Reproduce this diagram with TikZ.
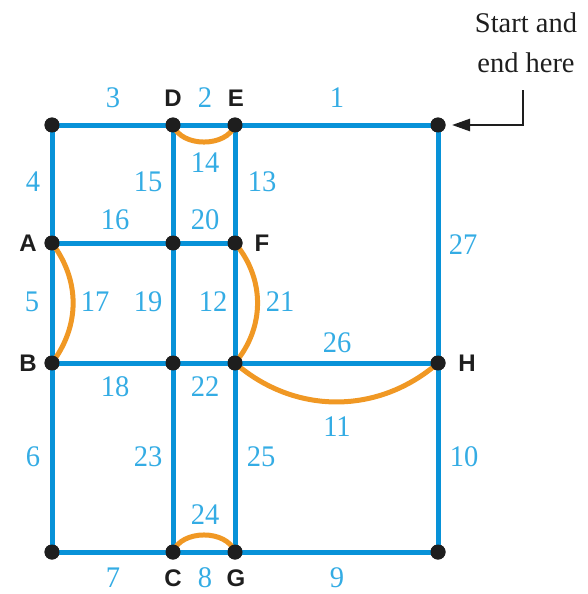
\documentclass[tikz,border=0pt]{standalone}
\usepackage{fontspec}
\setmainfont{Liberation Serif}
\newfontfamily\lettfont{Liberation Sans}
\usetikzlibrary{arrows.meta}
\definecolor{edgeblue}{RGB}{8,146,216}
\definecolor{numblue}{RGB}{52,172,228}
\definecolor{arcorange}{RGB}{240,152,36}
\definecolor{dotblack}{RGB}{30,30,30}
\tikzset{
  vtx/.style={circle,fill=dotblack,inner sep=0pt,minimum size=15pt},
  edge/.style={draw=edgeblue,line width=5pt},
  dup/.style={draw=arcorange,line width=5pt},
  num/.style={text=numblue,font=\fontsize{28.5}{28.5}\selectfont,inner sep=0pt,yscale=1.05},
  lett/.style={text=dotblack,font=\lettfont\bfseries\fontsize{24}{24}\selectfont,inner sep=0pt},
  pointer/.style={draw=dotblack,line width=2.5pt,-{Triangle[length=18pt,width=12pt]}}
}
\begin{document}
\begin{tikzpicture}[x=1pt,y=-1pt]
\useasboundingbox (0,0) rectangle (588,594);
% vertices
\node[vtx] (tl) at (52,125) {};
\node[vtx] (D)  at (173,125) {};
\node[vtx] (E)  at (235,125) {};
\node[vtx] (tr) at (438,125) {};
\node[vtx] (A)  at (52,243) {};
\node[vtx] (am) at (173,243) {};
\node[vtx] (F)  at (235,243) {};
\node[vtx] (B)  at (52,363) {};
\node[vtx] (bm) at (173,363) {};
\node[vtx] (P)  at (235,363) {};
\node[vtx] (H)  at (438,363) {};
\node[vtx] (bl) at (52,552) {};
\node[vtx] (C)  at (173,552) {};
\node[vtx] (G)  at (235,552) {};
\node[vtx] (br) at (438,552) {};
% blue edges
\draw[edge] (tl.center) -- (D.center) -- (E.center) -- (tr.center);
\draw[edge] (A.center) -- (am.center) -- (F.center);
\draw[edge] (B.center) -- (bm.center) -- (P.center) -- (H.center);
\draw[edge] (bl.center) -- (C.center) -- (G.center) -- (br.center);
\draw[edge] (tl.center) -- (A.center) -- (B.center) -- (bl.center);
\draw[edge] (D.center) -- (am.center) -- (bm.center) -- (C.center);
\draw[edge] (E.center) -- (F.center) -- (P.center) -- (G.center);
\draw[edge] (tr.center) -- (H.center) -- (br.center);
% orange duplicated edges
\draw[dup] (D.center) to[bend right=70] (E.center);
\draw[dup] (A.center) to[bend left=37] (B.center);
\draw[dup] (F.center) to[bend left=40] (P.center);
\draw[dup] (P.center) to[bend right=41] (H.center);
\draw[dup] (C.center) to[bend left=70] (G.center);
% redraw vertices on top
\foreach \v in {tl,D,E,tr,A,am,F,B,bm,P,H,bl,C,G,br}
  \fill[dotblack] (\v.center) circle (7.5pt);
% edge numbers
\node[num] (n1) at (337,98) {1};
\node[num] (n2) at (205,98) {2};
\node[num] (n3) at (113,98) {3};
\node[num] (n4) at (33,182) {4};
\node[num] (n5) at (32,302) {5};
\node[num] (n6) at (33,457) {6};
\node[num] (n7) at (113,578) {7};
\node[num] (n8) at (205,578) {8};
\node[num] (n9) at (337,578) {9};
\node[num] (n10) at (464,457) {10};
\node[num] (n11) at (337,427) {11};
\node[num] (n12) at (213,302) {12};
\node[num] (n13) at (262,182) {13};
\node[num] (n14) at (205,163) {14};
\node[num] (n15) at (148,182) {15};
\node[num] (n16) at (115,220) {16};
\node[num] (n17) at (95,302) {17};
\node[num] (n18) at (115,387) {18};
\node[num] (n19) at (148,302) {19};
\node[num] (n20) at (205,220) {20};
\node[num] (n21) at (280,302) {21};
\node[num] (n22) at (205,387) {22};
\node[num] (n23) at (148,457) {23};
\node[num] (n24) at (205,515) {24};
\node[num] (n25) at (261,457) {25};
\node[num] (n26) at (337,343) {26};
\node[num] (n27) at (463,245) {27};
% vertex letters
\node[lett] (lD) at (173,98) {D};
\node[lett] (lE) at (236,98) {E};
\node[lett] (lA) at (28,243) {A};
\node[lett] (lF) at (262,243) {F};
\node[lett] (lB) at (28,363) {B};
\node[lett] (lH) at (467,363) {H};
\node[lett] (lC) at (173,578) {C};
\node[lett] (lG) at (236,578) {G};
% start annotation
\node[text=dotblack,font=\fontsize{28.5}{40}\selectfont,align=center,inner sep=0pt] (start) at (526,43) {Start and\\end here};
\coordinate (arrc) at (523,90);
\coordinate (arrtip) at (452,125);
\draw[pointer] (arrc) |- (arrtip);
\end{tikzpicture}
\end{document}
